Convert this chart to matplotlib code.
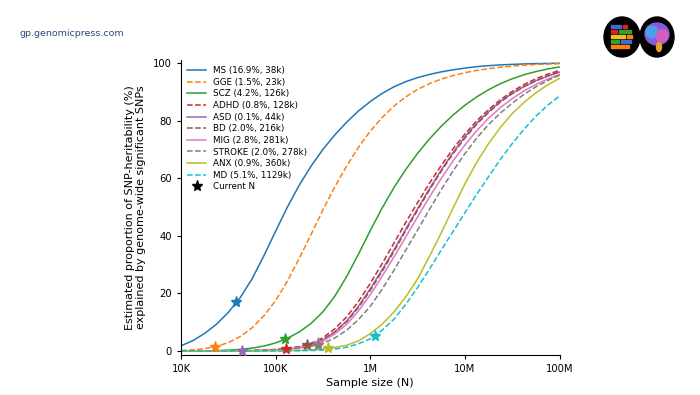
import matplotlib
matplotlib.use("Agg")
import matplotlib.pyplot as plt
import numpy as np
from matplotlib.patches import Ellipse, Rectangle

# sample sizes on the x axis (log10 N), eighth-decade steps from 10K to 100M
log_n = [4.0, 4.125, 4.25, 4.375, 4.5, 4.625, 4.75, 4.875,
         5.0, 5.125, 5.25, 5.375, 5.5, 5.625, 5.75, 5.875,
         6.0, 6.125, 6.25, 6.375, 6.5, 6.625, 6.75, 6.875,
         7.0, 7.125, 7.25, 7.375, 7.5, 7.625, 7.75, 7.875, 8.0]

# % of SNP-heritability explained by GWS SNPs
ms = [1.8, 3.6, 6.1, 9.3, 13.4, 18.5, 25, 33, 41.6, 50, 57.6, 64.2, 70, 75, 79.4, 83.3,
      86.6, 89.4, 91.7, 93.5, 94.9, 96.0, 96.9, 97.6, 98.2, 98.7, 99.05, 99.3, 99.5,
      99.65, 99.75, 99.82, 99.88]
gge = [0.2, 0.4, 0.8, 1.6, 2.9, 5.0, 8.0, 12.2, 17.5, 24.3, 32.2, 40.5, 49, 57, 64.2, 70.7,
       76.3, 81, 85, 88.2, 90.8, 92.8, 94.4, 95.6, 96.6, 97.4, 98.0, 98.5, 98.9, 99.2,
       99.45, 99.6, 99.75]
scz = [0, 0.02, 0.05, 0.12, 0.3, 0.55, 1.0, 1.7, 2.8, 4.4, 6.6, 9.6, 13.6, 19, 25.8, 33.6,
       41.8, 49.6, 56.7, 63, 68.6, 73.6, 78, 81.9, 85.3, 88.2, 90.7, 92.8, 94.5, 95.9,
       97, 97.9, 98.6]
adhd = [0, 0, 0.01, 0.03, 0.06, 0.12, 0.22, 0.36, 0.55, 0.9, 1.5, 2.7, 4.6, 7.7, 11.8, 17.2,
        23.5, 30.3, 37.4, 44.6, 51.5, 58.2, 64.4, 70.2, 75.3, 79.9, 83.8, 87.2, 90.1, 92.5,
        94.5, 96.1, 97.4]
asd = [0, 0, 0, 0.01, 0.02, 0.04, 0.08, 0.18, 0.35, 0.62, 1.1, 2.1, 3.8, 6.6, 10.4, 15.5,
       21.6, 28.2, 35.1, 42.3, 49.4, 56.3, 62.8, 68.9, 74.4, 79.1, 83.1, 86.6, 89.5, 91.8,
       93.8, 95.4, 96.8]
bd = [0, 0, 0, 0.01, 0.02, 0.05, 0.1, 0.22, 0.45, 0.82, 1.4, 2.4, 4.0, 6.6, 10.2, 15.1,
      21.0, 27.6, 34.5, 41.8, 48.9, 55.9, 62.4, 68.5, 73.9, 78.7, 82.8, 86.4, 89.3, 91.8,
      93.8, 95.5, 97.0]
mig = [0, 0, 0, 0.01, 0.02, 0.04, 0.08, 0.18, 0.35, 0.66, 1.2, 2.1, 3.5, 5.9, 9.2, 13.9,
       19.5, 25.9, 32.6, 39.6, 46.5, 53.4, 59.9, 66.0, 71.5, 76.5, 80.8, 84.5, 87.6, 90.3,
       92.5, 94.4, 96.0]
stroke = [0, 0, 0, 0, 0.01, 0.02, 0.05, 0.12, 0.25, 0.5, 0.9, 1.6, 2.7, 4.5, 7.2, 10.9,
          15.5, 21.4, 28.0, 35.0, 42.0, 49.1, 56.0, 62.5, 68.5, 73.9, 78.6, 82.6, 86.0, 89.1,
          91.7, 93.9, 95.7]
anx = [0, 0, 0, 0, 0, 0.01, 0.01, 0.03, 0.05, 0.1, 0.2, 0.4, 0.7, 1.2, 2.0, 3.5,
       6.0, 9.3, 13.5, 18.8, 25.0, 32.8, 41.0, 49.6, 58.0, 65.5, 72.0, 77.6, 82.4, 86.3,
       89.6, 92.4, 94.6]
md = [0, 0, 0, 0, 0, 0, 0, 0.01, 0.02, 0.04, 0.08, 0.16, 0.3, 0.65, 1.3, 2.5,
      4.2, 7.2, 11.0, 16.2, 22.0, 28.4, 35.0, 41.5, 48.0, 54.4, 60.5, 66.5, 72.0, 77.0,
      81.5, 85.3, 88.5]

traits = ["MS", "GGE", "SCZ", "ADHD", "ASD", "BD", "MIG", "STROKE", "ANX", "MD"]
curves = [ms, gge, scz, adhd, asd, bd, mig, stroke, anx, md]
# current sample size (thousands) and what it explains now
current_n = [38, 23, 126, 128, 44, 216, 281, 278, 360, 1129]
current_pct = [16.9, 1.5, 4.2, 0.8, 0.1, 2.0, 2.8, 2.0, 0.9, 5.1]

fig = plt.figure(figsize=(7, 3.95), dpi=100)
ax = fig.add_axes([0.2586, 0.1005, 0.5407, 0.7475])

n = 10 ** np.array(log_n)
for i in range(len(traits)):
    col = "C%d" % i
    ls = "-" if i % 2 == 0 else "--"   # every other one is dashed
    lab = "%s (%.1f%%, %dk)" % (traits[i], current_pct[i], current_n[i])
    ax.plot(n, curves[i], color=col, ls=ls, lw=1.1, label=lab)
    ax.plot(current_n[i] * 1000, current_pct[i], marker="*", ms=8,
            color=col, ls="none", zorder=5)

# dummy handle for the legend star
ax.plot([], [], marker="*", ms=8, color="black", ls="none", label="Current N")

ax.set_xscale("log")
ax.set_xlim(1e4, 1e8)
ax.set_ylim(-1.5, 101)
ax.set_xticks([1e4, 1e5, 1e6, 1e7, 1e8])
ax.set_xticklabels(["10K", "100K", "1M", "10M", "100M"])
ax.xaxis.set_minor_locator(matplotlib.ticker.NullLocator())
ax.set_yticks([0, 20, 40, 60, 80, 100])
ax.tick_params(labelsize=7.2, length=3, width=0.8)
for s in ["top", "right"]:
    ax.spines[s].set_visible(False)
ax.spines["left"].set_linewidth(0.8)
ax.spines["bottom"].set_linewidth(0.8)

ax.set_xlabel("Sample size (N)", fontsize=8, labelpad=3)
ax.set_ylabel("Estimated proportion of SNP-heritability (%)\n"
              "explained by genome-wide significant SNPs", fontsize=8, labelpad=5)

ax.legend(loc="upper left", frameon=False, fontsize=6.3, labelspacing=0.3,
          handlelength=2.2, borderaxespad=0.3, bbox_to_anchor=(0.0, 1.0))

# publisher url and the two round logos on top
fig.text(20 / 700, 1 - 33 / 395, "gp.genomicpress.com", fontsize=6.8,
         color="#2b4a7e", va="center", ha="left")

lg = fig.add_axes([600 / 700, 1 - 58 / 395, 80 / 700, 42 / 395])
lg.set_xlim(0, 80)
lg.set_ylim(0, 42)
lg.axis("off")
lg.add_patch(Ellipse((22, 21), 36, 40, color="black"))
lg.add_patch(Ellipse((57, 21), 34, 40, color="black"))
# little coloured bars in the first circle
bars = [(11, 30, 10, "#3a6fd8"), (23, 30, 4, "#e02020"), (11, 25, 6, "#e02020"),
        (19, 25, 12, "#33a02c"), (11, 20, 14, "#f0c020"), (27, 20, 5, "#ff7f0e"),
        (11, 15, 8, "#33a02c"), (21, 15, 10, "#3a6fd8"), (11, 10, 18, "#ff7f0e")]
for bx, by, bw, bc in bars:
    lg.add_patch(Rectangle((bx, by), bw, 3.2, color=bc))
# brain-ish blob in the second circle
lg.add_patch(Ellipse((57, 24), 24, 22, color="#8a5ad8"))
lg.add_patch(Ellipse((52, 26), 12, 12, color="#4aa0e8"))
lg.add_patch(Ellipse((62, 22), 12, 12, color="#d060c0"))
lg.add_patch(Ellipse((59, 11), 5, 9, color="#e8a030"))

plt.savefig("out.png", dpi=100)
